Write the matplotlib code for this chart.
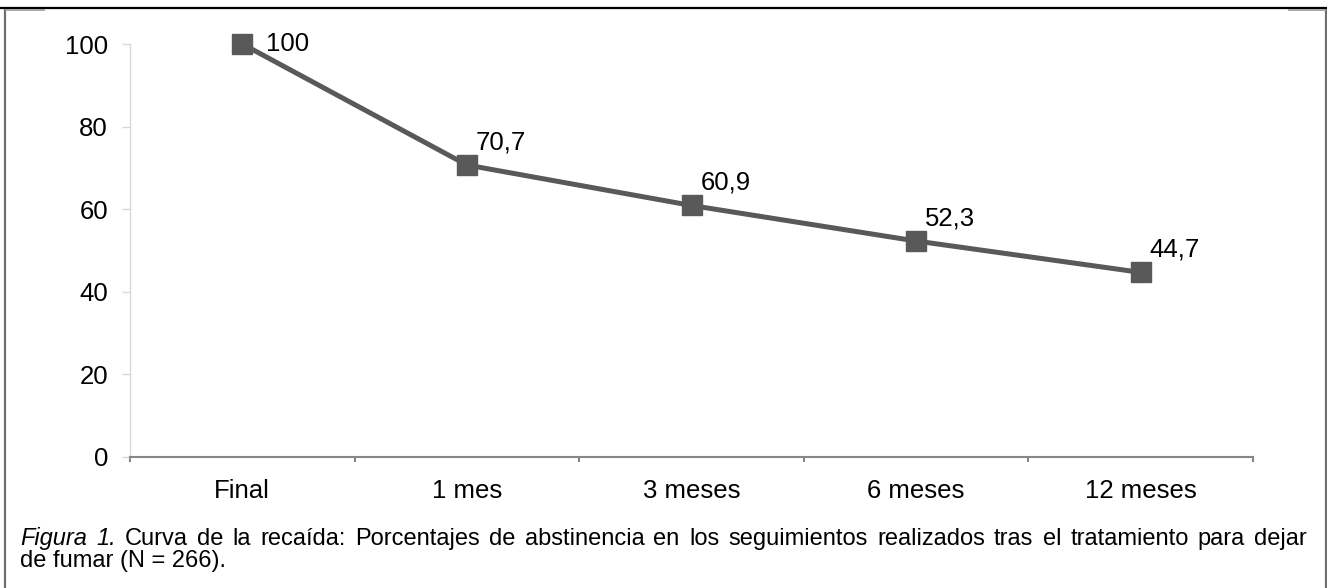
import matplotlib
matplotlib.use("Agg")
import matplotlib.pyplot as plt
from matplotlib.lines import Line2D

plt.rcParams['font.family'] = ['Liberation Sans', 'DejaVu Sans']

categories = ["Final", "1 mes", "3 meses", "6 meses", "12 meses"]
values = [100, 70.7, 60.9, 52.3, 44.7]
value_labels = ["100", "70,7", "60,9", "52,3", "44,7"]
y_ticks = [0, 20, 40, 60, 80, 100]

W, H = 1327, 588
fig = plt.figure(figsize=(W / 100, H / 100), dpi=100)
fig.patch.set_facecolor('white')

ax = fig.add_axes([130 / W, 1 - 457 / H, (1253 - 130) / W, (457 - 44) / H])
x = list(range(len(categories)))
col = '#595959'
ax.plot(x, values, color=col, lw=3.6, marker='s', markersize=15,
        markerfacecolor=col, markeredgecolor=col, clip_on=False, zorder=3)

for i, (v, lab) in enumerate(zip(values, value_labels)):
    if i == 0:
        off = (24, 0)
    else:
        off = (9, 23)
    ax.annotate(lab, (i, v), xytext=off, textcoords='offset pixels',
                ha='left', va='center', fontsize=18.5, color='black')

ax.set_xlim(-0.5, len(categories) - 0.5)
ax.set_ylim(0, 100)
ax.set_yticks(y_ticks)
ax.set_yticklabels([str(t) for t in y_ticks], fontsize=18.5)
ax.set_xticks(x)
ax.set_xticklabels(categories, fontsize=18.5)
ax.set_xticks([i - 0.5 for i in range(len(categories) + 1)], minor=True)
ax.tick_params(axis='x', which='major', length=0, pad=16)
ax.tick_params(axis='x', which='minor', length=5 * 0.72, width=1.5, color='#868686', direction='out')
ax.tick_params(axis='y', which='major', length=8 * 0.72, width=1, color='#d9d9d9', pad=10)

for s in ['top', 'right']:
    ax.spines[s].set_visible(False)
ax.spines['left'].set_color('#d9d9d9')
ax.spines['left'].set_linewidth(1)
ax.spines['bottom'].set_color('#868686')
ax.spines['bottom'].set_linewidth(1.5)

# frame
def fline(x0, x1, y0, y1, c, lw):
    fig.add_artist(Line2D([x0 / W, x1 / W], [1 - y0 / H, 1 - y1 / H], color=c, lw=lw,
                          transform=fig.transFigure, solid_capstyle='butt'))

fline(0, W, 8, 8, 'black', 1.6)
fline(5, 5, 9, H, '#6e6e6e', 1.6)
fline(W - 1.5, W - 1.5, 9, H, '#6e6e6e', 1.6)
fline(5, 45, 9.5, 9.5, '#9a9a9a', 1.2)
fline(1288, W - 1.5, 9.5, 9.5, '#9a9a9a', 1.2)

# caption, line 1 justified
renderer = fig.canvas.get_renderer()
cap_fs = 17
line1 = [("Figura", 'italic'), ("1.", 'italic'), ("Curva", 'normal'), ("de", 'normal'),
         ("la", 'normal'), ("recaída:", 'normal'), ("Porcentajes", 'normal'), ("de", 'normal'),
         ("abstinencia", 'normal'), ("en", 'normal'), ("los", 'normal'), ("seguimientos", 'normal'),
         ("realizados", 'normal'), ("tras", 'normal'), ("el", 'normal'), ("tratamiento", 'normal'),
         ("para", 'normal'), ("dejar", 'normal')]
x_start, x_end = 20, 1307
y1 = 1 - 545 / H
texts = []
widths = []
for w, st in line1:
    t = fig.text(0, y1, w, fontsize=cap_fs, style=st, ha='left', va='baseline',
                 transform=fig.transFigure)
    texts.append(t)
    widths.append(t.get_window_extent(renderer).width)
gap = (x_end - x_start - sum(widths)) / (len(widths) - 1)
cx = x_start
for t, wd in zip(texts, widths):
    t.set_x(cx / W)
    cx += wd + gap

fig.text(x_start / W, 1 - 567 / H, "de fumar (N = 266).", fontsize=cap_fs,
         ha='left', va='baseline')

fig.savefig("out.png", dpi=100, facecolor='white')
